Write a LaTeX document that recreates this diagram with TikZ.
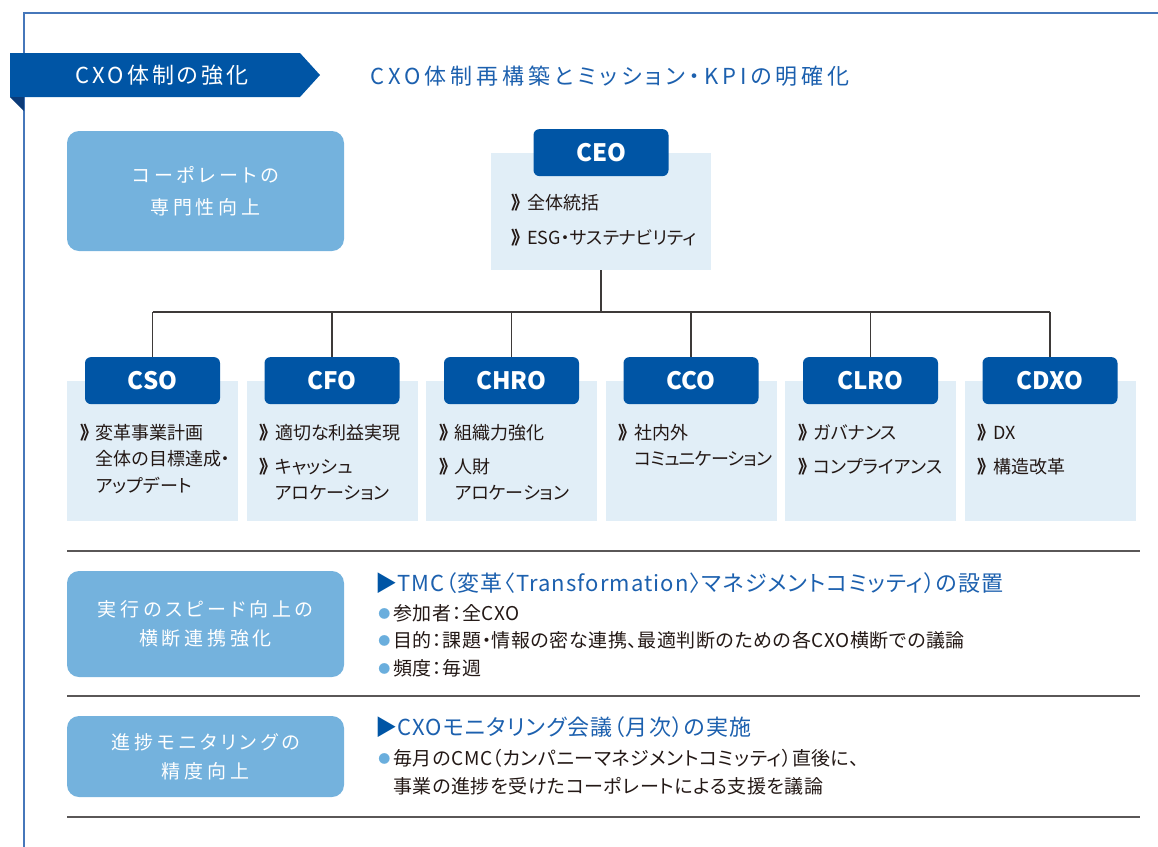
\documentclass[tikz,border=0pt]{standalone}
\usepackage{fontspec}
\setmainfont[RawFeature=+palt]{Noto Sans CJK JP}
\newfontfamily\trackfont[LetterSpace=14, RawFeature=+palt]{Noto Sans CJK JP}
\newfontfamily\titlefont[LetterSpace=18, RawFeature=+palt]{Noto Sans CJK JP}
\newfontfamily\widefont[LetterSpace=20, RawFeature=+palt]{Noto Sans CJK JP}
\newfontfamily\headfont[LetterSpace=5, RawFeature=+palt]{Noto Sans CJK JP}
\newfontfamily\listfont[LetterSpace=3, RawFeature=+palt]{Noto Sans CJK JP}
\newfontfamily\tightfont[LetterSpace=-4, RawFeature=+palt]{Noto Sans CJK JP}
\usetikzlibrary{positioning}

\definecolor{bandblue}{HTML}{0055A5}
\definecolor{foldblue}{HTML}{0B3B78}
\definecolor{frameblue}{HTML}{4677BA}
\definecolor{softblue}{HTML}{74B2DD}
\definecolor{paleblue}{HTML}{E1EEF7}
\definecolor{titleblue}{HTML}{1C60AE}
\definecolor{dotblue}{HTML}{6AAEDD}
\definecolor{inkgray}{HTML}{231815}
\definecolor{linegray}{HTML}{3E3A39}
\definecolor{rulegray}{HTML}{5A5757}

\def \markW {0.85em}
\newcommand\mk{\makebox[\markW][l]{\textbf{》}}}
\newcommand\mkgap{\hphantom{\mk}}
\newcommand\bul{\raisebox{1.2pt}{\color{dotblue}\fontsize{6pt}{6pt}\selectfont ●}\hspace{1.5pt}}
\newcommand\bulgap{\hphantom{\bul}}

\tikzset{
  softbox/.style={fill=softblue, rounded corners=6pt, minimum width=138.5pt, inner sep=0pt,
    text=white, align=center, font=\widefont\fontsize{9.5pt}{14.5pt}\selectfont},
  panel/.style={fill=paleblue, minimum width=85.5pt, minimum height=70pt, inner sep=0pt},
  headbox/.style={fill=bandblue, rounded corners=3pt, minimum width=67.5pt, minimum height=23.5pt,
    inner sep=0pt, text=white, font=\bfseries\fontsize{12pt}{12pt}\selectfont},
  items/.style={anchor=north west, inner sep=0pt, align=left, text=inkgray,
    font=\fontsize{9pt}{13.25pt}\selectfont},
  bullets/.style={anchor=north west, inner sep=0pt, align=left, text=inkgray,
    font=\listfont\fontsize{9.5pt}{13.75pt}\selectfont},
  heading/.style={anchor=west, inner sep=0pt, text=titleblue, font=\headfont\fontsize{11pt}{11pt}\selectfont},
  orgline/.style={draw=linegray, line width=0.75pt},
  rule/.style={draw=rulegray, line width=0.75pt}
}

\begin{document}
\begin{tikzpicture}[x=0.5pt, y=-0.5pt]
         \useasboundingbox (0,0) rectangle (1158,847);
         \draw[frameblue, line width=1pt] (1158,13) -- (24,13) -- (24,847);
         \fill[bandblue] (10,53) -- (300,53) -- (320,75) -- (300,97) -- (10,97) -- cycle;
         \fill[foldblue] (10,97) -- (24,97) -- (24,111) -- cycle;
         \node[inner sep=0pt, text=white, font=\trackfont\fontsize{11pt}{11pt}\selectfont] (band) at (162,75) {CXO体制の強化};
         \node[inner sep=0pt, anchor=west, text=titleblue, font=\titlefont\fontsize{11pt}{11pt}\selectfont] (subtitle) at (370,76) {CXO体制再構築とミッション・KPIの明確化};

         \node[softbox, minimum height=60pt, font=\widefont\fontsize{9.5pt}{16pt}\selectfont] (corp) at (205.5,191) {コーポレートの\\専門性向上};

         \node[panel, minimum width=110pt, minimum height=58.5pt] (p-ceo) at (601,211.5) {};
         \node[headbox] (h-ceo) at (p-ceo.north) {CEO};
         \node[items, below right=20.5pt and 10.5pt of p-ceo.north west, font=\fontsize{9pt}{17.5pt}\selectfont] (i-ceo) {\mk 全体統括\\\mk ESG・サステナビリティ};

         \foreach \i/\n/\t in {0/cso/CSO, 1/cfo/CFO, 2/chro/CHRO, 3/cco/CCO, 4/clro/CLRO, 5/cdxo/CDXO} {
            \node[panel] (p-\n) at ({152.5+179.5*\i},451) {};
            \node[headbox] (h-\n) at (p-\n.north) {\t};
         }
         \node[items, below right=21.5pt and 6.75pt of p-cso.north west] (i-cso) {\mk 変革事業計画\\\mkgap 全体の目標達成・\\\mkgap アップデート};
         \node[items, below right=21.5pt and 6.75pt of p-cfo.north west] (i-cfo) {\mk 適切な利益実現\\[3.75pt]\mk キャッシュ\\\mkgap アロケーション};
         \node[items, below right=21.5pt and 6.75pt of p-chro.north west] (i-chro) {\mk 組織力強化\\[3.75pt]\mk 人財\\\mkgap アロケーション};
         \node[items, below right=21.5pt and 6.75pt of p-cco.north west] (i-cco) {\mk 社内外\\\mkgap {\tightfont コミュニケーション}};
         \node[items, below right=21.5pt and 6.75pt of p-clro.north west] (i-clro) {\mk ガバナンス\\[3.75pt]\mk コンプライアンス};
         \node[items, below right=21.5pt and 6.75pt of p-cdxo.north west] (i-cdxo) {\mk DX\\[3.75pt]\mk 構造改革};

         \coordinate (bar) at (601,312);
         \draw[orgline] (p-ceo.south) -- (bar);
         \draw[orgline] (bar -| h-cso.north) -- (bar -| h-cdxo.north);
         \foreach \n in {cso,cfo,chro,cco,clro,cdxo}
            \draw[orgline] (bar -| h-\n.north) -- (h-\n.north);

         \draw[rule] (67,551) -- (1140,551);
         \draw[rule] (67,696) -- (1140,696);
         \draw[rule] (67,817) -- (1140,817);

         \node[softbox, minimum height=53pt] (speed) at (205.5,624) {実行のスピード向上の\\横断連携強化};
         \node[heading] (tmc) at (375,583) {\textcolor{bandblue}{▶}TMC（変革〈Transformation〉マネジメントコミッティ）の設置};
         \node[bullets] (tmc-list) at (378,604) {\bul 参加者：全CXO\\\bul 目的：課題・情報の密な連携、最適判断のための各CXO横断での議論\\\bul 頻度：毎週};

         \node[softbox, minimum height=40.5pt] (monitor) at (205.5,756.5) {進捗モニタリングの\\精度向上};
         \node[heading] (cmc) at (375,727) {\textcolor{bandblue}{▶}CXOモニタリング会議（月次）の実施};
         \node[bullets, font=\listfont\fontsize{9.5pt}{14pt}\selectfont] (cmc-list) at (378,749) {\bul 毎月のCMC（カンパニーマネジメントコミッティ）直後に、\\\bulgap 事業の進捗を受けたコーポレートによる支援を議論};
      \end{tikzpicture}
\end{document}
